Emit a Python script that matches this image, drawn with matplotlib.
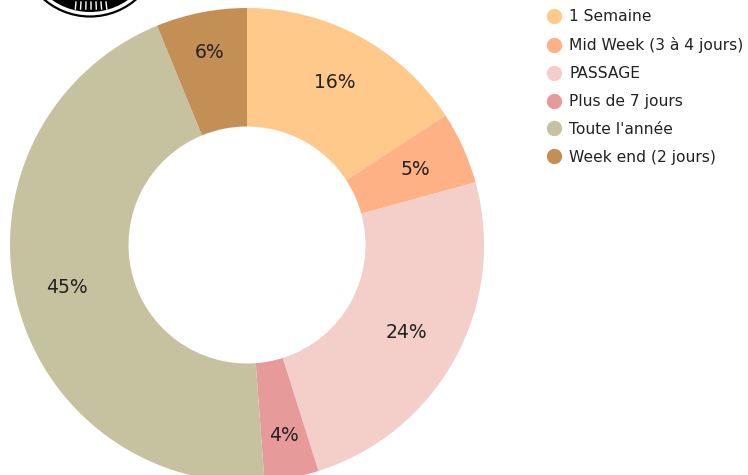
import matplotlib.pyplot as plt
from matplotlib.lines import Line2D
from matplotlib.patches import Circle

plt.rcParams['font.family'] = ['DejaVu Sans']

# durée des séjours
labels = ['1 Semaine', 'Mid Week (3 à 4 jours)', 'PASSAGE', 'Plus de 7 jours', "Toute l'année", 'Week end (2 jours)']
values = [15.8, 4.95, 24.4, 3.7, 45.0, 6.2]
colors = ['#FFC98B', '#FDB184', '#F4CEC8', '#E79A9A', '#C6C19E', '#C38F55']

W, H = 748, 475
fig = plt.figure(figsize=(W / 100, H / 100), dpi=100)

# donut, centre (247, 245) px, rayon 237 px
ax = fig.add_axes([10 / W, -7 / H, 474 / W, 474 / H])
wedges, texts, autotexts = ax.pie(values, colors=colors, startangle=90, counterclock=False,
                                  autopct='%1.0f%%', pctdistance=0.78,
                                  wedgeprops=dict(width=0.5, linewidth=0),
                                  textprops=dict(fontsize=13.5, color='#222222'))
# decalage radial des etiquettes (Plus de 7 jours et Week end plus loin)
shift = [1.0, 1.0, 0.985, 1.05, 1.0, 1.06]
for k, t in zip(shift, autotexts):
    x, y = t.get_position()
    t.set_position((x * k, y * k))
ax.set_xlim(-1, 1)
ax.set_ylim(-1, 1)
ax.set_aspect('equal')
ax.axis('off')

# legende
handles = [Line2D([], [], marker='o', linestyle='', markersize=11, markerfacecolor=c,
                  markeredgewidth=0) for c in colors]
fig.legend(handles, labels, loc='upper left', bbox_to_anchor=(538 / W, 1 - 3 / H),
           frameon=False, fontsize=11.2, handletextpad=0.3, labelspacing=0.83,
           handlelength=1.3, borderaxespad=0, labelcolor='#222222')

# logo coupe en haut a gauche
lax = fig.add_axes([0, 0, 1, 1])
lax.set_xlim(0, W)
lax.set_ylim(H, 0)
lax.axis('off')
lax.add_patch(Circle((90, -54), 70.5, facecolor='none', edgecolor='black', linewidth=1.6))
lax.add_patch(Circle((90, -54), 66, facecolor='black', edgecolor='none'))
for dx in [-14, -9, -4, 1, 6, 11, 16]:
    lax.plot([90 + dx, 90 + dx * 1.05], [2, 9], color='white', linewidth=1.0)

fig.savefig('out.png', dpi=100)
